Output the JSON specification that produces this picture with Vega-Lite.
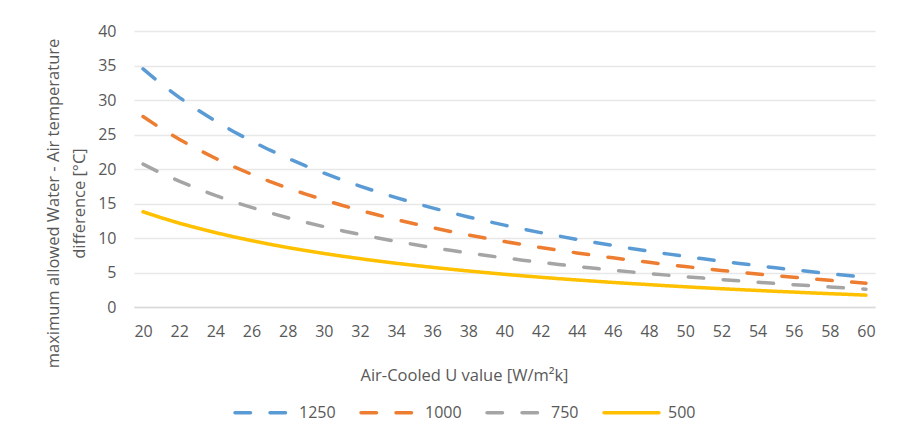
{
  "$schema": "https://vega.github.io/schema/vega-lite/v6.json",
  "autosize": "none",
  "width": 741,
  "height": 276,
  "padding": {"left": 134, "top": 31, "right": 24, "bottom": 136},
  "background": "white",
  "config": {
    "font": "Open Sans",
    "view": {"stroke": null},
    "axis": {"labelColor": "#595959", "titleColor": "#595959", "labelFont": "Open Sans", "titleFont": "Open Sans", "titleFontWeight": "normal"},
    "legend": {"labelColor": "#595959", "labelFont": "Open Sans"}
  },
  "data": {
    "values": [
      {"u":20,"s":"1250","v":34.50},{"u":21,"s":"1250","v":32.34},{"u":22,"s":"1250","v":30.38},{"u":23,"s":"1250","v":28.59},{"u":24,"s":"1250","v":26.95},{"u":25,"s":"1250","v":25.44},{"u":26,"s":"1250","v":24.05},{"u":27,"s":"1250","v":22.76},{"u":28,"s":"1250","v":21.56},{"u":29,"s":"1250","v":20.45},{"u":30,"s":"1250","v":19.41},{"u":31,"s":"1250","v":18.43},{"u":32,"s":"1250","v":17.52},{"u":33,"s":"1250","v":16.66},{"u":34,"s":"1250","v":15.85},{"u":35,"s":"1250","v":15.09},{"u":36,"s":"1250","v":14.37},{"u":37,"s":"1250","v":13.69},{"u":38,"s":"1250","v":13.05},{"u":39,"s":"1250","v":12.44},{"u":40,"s":"1250","v":11.86},{"u":41,"s":"1250","v":11.31},{"u":42,"s":"1250","v":10.78},{"u":43,"s":"1250","v":10.28},{"u":44,"s":"1250","v":9.80},{"u":45,"s":"1250","v":9.34},{"u":46,"s":"1250","v":8.91},{"u":47,"s":"1250","v":8.49},{"u":48,"s":"1250","v":8.09},{"u":49,"s":"1250","v":7.70},{"u":50,"s":"1250","v":7.33},{"u":51,"s":"1250","v":6.98},{"u":52,"s":"1250","v":6.63},{"u":53,"s":"1250","v":6.31},{"u":54,"s":"1250","v":5.99},{"u":55,"s":"1250","v":5.68},{"u":56,"s":"1250","v":5.39},{"u":57,"s":"1250","v":5.11},{"u":58,"s":"1250","v":4.83},{"u":59,"s":"1250","v":4.57},{"u":60,"s":"1250","v":4.31},
      {"u":20,"s":"1000","v":27.60},{"u":21,"s":"1000","v":25.87},{"u":22,"s":"1000","v":24.30},{"u":23,"s":"1000","v":22.87},{"u":24,"s":"1000","v":21.56},{"u":25,"s":"1000","v":20.35},{"u":26,"s":"1000","v":19.24},{"u":27,"s":"1000","v":18.21},{"u":28,"s":"1000","v":17.25},{"u":29,"s":"1000","v":16.36},{"u":30,"s":"1000","v":15.53},{"u":31,"s":"1000","v":14.74},{"u":32,"s":"1000","v":14.02},{"u":33,"s":"1000","v":13.33},{"u":34,"s":"1000","v":12.68},{"u":35,"s":"1000","v":12.07},{"u":36,"s":"1000","v":11.50},{"u":37,"s":"1000","v":10.95},{"u":38,"s":"1000","v":10.44},{"u":39,"s":"1000","v":9.95},{"u":40,"s":"1000","v":9.49},{"u":41,"s":"1000","v":9.05},{"u":42,"s":"1000","v":8.62},{"u":43,"s":"1000","v":8.22},{"u":44,"s":"1000","v":7.84},{"u":45,"s":"1000","v":7.47},{"u":46,"s":"1000","v":7.13},{"u":47,"s":"1000","v":6.79},{"u":48,"s":"1000","v":6.47},{"u":49,"s":"1000","v":6.16},{"u":50,"s":"1000","v":5.86},{"u":51,"s":"1000","v":5.58},{"u":52,"s":"1000","v":5.30},{"u":53,"s":"1000","v":5.05},{"u":54,"s":"1000","v":4.79},{"u":55,"s":"1000","v":4.54},{"u":56,"s":"1000","v":4.31},{"u":57,"s":"1000","v":4.09},{"u":58,"s":"1000","v":3.86},{"u":59,"s":"1000","v":3.66},{"u":60,"s":"1000","v":3.45},
      {"u":20,"s":"750","v":20.70},{"u":21,"s":"750","v":19.40},{"u":22,"s":"750","v":18.23},{"u":23,"s":"750","v":17.15},{"u":24,"s":"750","v":16.17},{"u":25,"s":"750","v":15.26},{"u":26,"s":"750","v":14.43},{"u":27,"s":"750","v":13.66},{"u":28,"s":"750","v":12.94},{"u":29,"s":"750","v":12.27},{"u":30,"s":"750","v":11.65},{"u":31,"s":"750","v":11.06},{"u":32,"s":"750","v":10.51},{"u":33,"s":"750","v":10.00},{"u":34,"s":"750","v":9.51},{"u":35,"s":"750","v":9.05},{"u":36,"s":"750","v":8.62},{"u":37,"s":"750","v":8.21},{"u":38,"s":"750","v":7.83},{"u":39,"s":"750","v":7.46},{"u":40,"s":"750","v":7.12},{"u":41,"s":"750","v":6.79},{"u":42,"s":"750","v":6.47},{"u":43,"s":"750","v":6.17},{"u":44,"s":"750","v":5.88},{"u":45,"s":"750","v":5.60},{"u":46,"s":"750","v":5.35},{"u":47,"s":"750","v":5.09},{"u":48,"s":"750","v":4.85},{"u":49,"s":"750","v":4.62},{"u":50,"s":"750","v":4.40},{"u":51,"s":"750","v":4.19},{"u":52,"s":"750","v":3.98},{"u":53,"s":"750","v":3.79},{"u":54,"s":"750","v":3.59},{"u":55,"s":"750","v":3.41},{"u":56,"s":"750","v":3.23},{"u":57,"s":"750","v":3.07},{"u":58,"s":"750","v":2.90},{"u":59,"s":"750","v":2.74},{"u":60,"s":"750","v":2.59},
      {"u":20,"s":"500","v":13.80},{"u":21,"s":"500","v":12.94},{"u":22,"s":"500","v":12.15},{"u":23,"s":"500","v":11.44},{"u":24,"s":"500","v":10.78},{"u":25,"s":"500","v":10.18},{"u":26,"s":"500","v":9.62},{"u":27,"s":"500","v":9.10},{"u":28,"s":"500","v":8.62},{"u":29,"s":"500","v":8.18},{"u":30,"s":"500","v":7.76},{"u":31,"s":"500","v":7.37},{"u":32,"s":"500","v":7.01},{"u":33,"s":"500","v":6.66},{"u":34,"s":"500","v":6.34},{"u":35,"s":"500","v":6.04},{"u":36,"s":"500","v":5.75},{"u":37,"s":"500","v":5.48},{"u":38,"s":"500","v":5.22},{"u":39,"s":"500","v":4.98},{"u":40,"s":"500","v":4.74},{"u":41,"s":"500","v":4.52},{"u":42,"s":"500","v":4.31},{"u":43,"s":"500","v":4.11},{"u":44,"s":"500","v":3.92},{"u":45,"s":"500","v":3.74},{"u":46,"s":"500","v":3.56},{"u":47,"s":"500","v":3.40},{"u":48,"s":"500","v":3.24},{"u":49,"s":"500","v":3.08},{"u":50,"s":"500","v":2.93},{"u":51,"s":"500","v":2.79},{"u":52,"s":"500","v":2.65},{"u":53,"s":"500","v":2.52},{"u":54,"s":"500","v":2.40},{"u":55,"s":"500","v":2.27},{"u":56,"s":"500","v":2.16},{"u":57,"s":"500","v":2.04},{"u":58,"s":"500","v":1.93},{"u":59,"s":"500","v":1.83},{"u":60,"s":"500","v":1.72}
    ]
  },
  "mark": {"type": "line", "strokeWidth": 3.5, "strokeCap": "round", "strokeJoin": "round"},
  "encoding": {
    "x": {
      "field": "u", "type": "quantitative",
      "scale": {"domain": [19.5, 60.5], "nice": false, "zero": false},
      "axis": {
        "values": [20,22,24,26,28,30,32,34,36,38,40,42,44,46,48,50,52,54,56,58,60],
        "grid": false, "ticks": false,
        "domainColor": "#D9D9D9", "domainWidth": 1.5,
        "labelFontSize": 16, "labelPadding": 16,
        "title": "Air-Cooled U value [W/m²k]",
        "titleFontSize": 16.5, "titleBaseline": "middle", "titleAnchor": "start",
        "titleAlign": "center", "titleX": 330, "titleY": 68
      }
    },
    "y": {
      "field": "v", "type": "quantitative",
      "scale": {"domain": [0, 40], "nice": false},
      "axis": {
        "values": [0,5,10,15,20,25,30,35,40],
        "grid": true, "gridColor": "#E8E8E8", "gridWidth": 1.5,
        "domain": false, "ticks": false,
        "labelFontSize": 16, "labelPadding": 18,
        "title": ["maximum allowed Water - Air temperature", "difference [°C]"],
        "titleFontSize": 16.5, "titleLineHeight": 26,
        "titleAngle": -90, "titleBaseline": "middle", "titleAlign": "center",
        "titleAnchor": "start", "titleX": -81, "titleY": 172
      }
    },
    "color": {
      "field": "s", "type": "nominal",
      "scale": {"domain": ["1250", "1000", "750", "500"], "range": ["#5B9BD5", "#ED7D31", "#A5A5A5", "#FFC000"]},
      "legend": {
        "title": null, "orient": "none", "direction": "horizontal",
        "legendX": 99, "legendY": 352, "padding": 0,
        "symbolType": "stroke", "symbolSize": 3025, "symbolStrokeWidth": 3.5,
        "labelFontSize": 16, "labelOffset": 7, "columnPadding": 18,
        "encode": {"symbols": {"update": {"strokeCap": {"value": "round"}}}}
      }
    },
    "strokeDash": {
      "field": "s", "type": "nominal",
      "scale": {"domain": ["1250", "1000", "750", "500"], "range": [[15.5, 19.5], [15.5, 19.5], [15.5, 19.5], [1, 0]]},
      "legend": null
    }
  }
}
